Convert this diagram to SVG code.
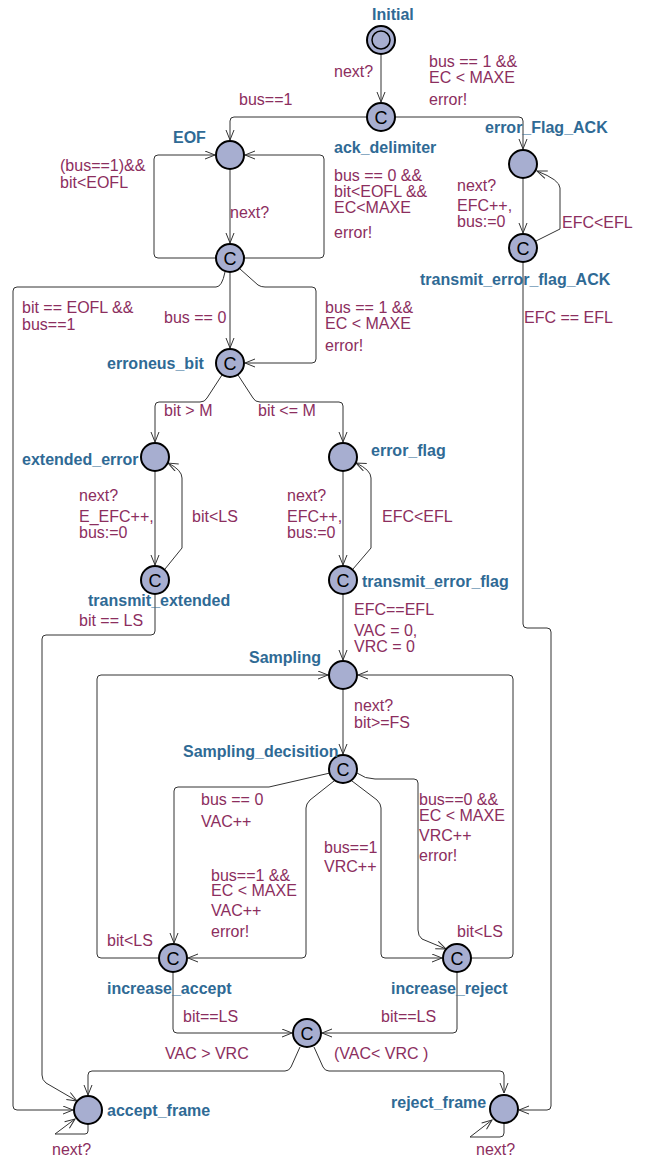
<svg xmlns="http://www.w3.org/2000/svg" width="645" height="1157" viewBox="0 0 645 1157">
<style>
.n{fill:#a7aed0;stroke:#000;stroke-width:2}
.nm{font-family:"Liberation Sans",Arial,sans-serif;font-weight:bold;font-size:16px;fill:#2f6a95}
.lb{font-family:"Liberation Sans",Arial,sans-serif;font-size:16px;fill:#8c2e5e}
.c{font-family:"Liberation Sans",Arial,sans-serif;font-size:18px;fill:#000;text-anchor:middle}
.e{fill:none;stroke:#333;stroke-width:1;marker-end:url(#a)}
</style>
<defs>
<marker id="a" markerUnits="userSpaceOnUse" markerWidth="12" markerHeight="10" refX="11" refY="4.5" orient="auto">
<path d="M1,0.5 L11,4.5 L1,8.5" fill="none" stroke="#333" stroke-width="1"/>
</marker>
</defs>
<rect width="645" height="1157" fill="#fff"/>
<g id="connectors">
<path class="e" d="M381,55 L381,102"/>
<path class="e" d="M367,117 L234,117 Q230,117 230,121 L230,140"/>
<path class="e" d="M395,117 L519,117 Q523,117 523,121 L523,149"/>
<path class="e" d="M230,170 L230,243"/>
<path class="e" d="M216,258 L158,258 Q154,258 154,254 L154,159 Q154,155 158,155 L215,155"/>
<path class="e" d="M244,258 L320,258 Q324,258 324,254 L324,159 Q324,155 320,155 L245,155"/>
<path class="e" d="M230,273 L230,348"/>
<path class="e" d="M240,269 L258,285 Q261,287 265,287 L312,287 Q316,287 316,291 L316,359 Q316,363 312,363 L245,363"/>
<path class="e" d="M225,272 Q222,287 216,287 L17,287 Q13,287 13,291 L13,1106 Q13,1110 17,1110 L73,1110"/>
<path class="e" d="M222,375 L207,398 Q205,402 200,402 L159,402 Q155,402 155,406 L155,442"/>
<path class="e" d="M238,375 L253,398 Q255,402 260,402 L339,402 Q343,402 343,406 L343,442"/>
<path class="e" d="M155,472 L155,565"/>
<path class="e" d="M165,569 L182,548 L182,478 Q182,470 168,463"/>
<path class="e" d="M343,472 L343,565"/>
<path class="e" d="M353,569 L371,548 L371,478 Q371,470 356,463"/>
<path class="e" d="M155,595 L155,631 Q155,635 151,635 L46,635 Q42,635 42,639 L42,1075 Q42,1080 46,1083 L77,1101"/>
<path class="e" d="M343,595 L343,660"/>
<path class="e" d="M523,263 L523,624 Q523,628 527,628 L547,628 Q551,628 551,632 L551,1106 Q551,1110 547,1110 L519,1110"/>
<path class="e" d="M536,241 L560,229 L560,188 Q560,180 537,171"/>
<path class="e" d="M523,179 L523,233"/>
<path class="e" d="M343,690 L343,754"/>
<path class="e" d="M330,773 L269,787 L178,787 Q174,787 174,791 L174,943"/>
<path class="e" d="M334,781 L310,800 Q306,804 306,808 L306,954 Q306,958 302,958 L188,958"/>
<path class="e" d="M352,781 L377,800 Q381,804 381,808 L381,954 Q381,958 385,958 L442,958"/>
<path class="e" d="M357,773 Q365,779 375,779 L414,779 Q418,779 418,783 L418,930 Q418,936 422,939 L446,949"/>
<path class="e" d="M159,958 L101,958 Q97,958 97,954 L97,679 Q97,675 101,675 L328,675"/>
<path class="e" d="M471,958 L509,958 Q513,958 513,954 L513,679 Q513,675 509,675 L358,675"/>
<path class="e" d="M173,973 L173,1029 Q173,1033 177,1033 L292,1033"/>
<path class="e" d="M457,973 L457,1029 Q457,1033 453,1033 L322,1033"/>
<path class="e" d="M300,1047 L291,1067 Q289,1071 285,1071 L92,1071 Q88,1071 88,1075 L88,1095"/>
<path class="e" d="M314,1047 L323,1067 Q325,1071 329,1071 L500,1071 Q504,1071 504,1075 L504,1093"/>
<path class="e" d="M88,1125 L88,1131 Q88,1134 85,1134 L55,1134 L75,1119"/>
<path class="e" d="M504,1123 L504,1133 Q504,1137 500,1137 L470,1137 L492,1120"/>
</g>
<g id="edge-labels" class="lb">
<text x="334" y="77">next?</text>
<text x="239" y="105">bus==1</text>
<text x="429" y="67">bus == 1 &amp;&amp;</text>
<text x="429" y="83">EC &lt; MAXE</text>
<text x="429" y="105">error!</text>
<text x="60" y="171">(bus==1)&amp;&amp;</text>
<text x="60" y="188">bit&lt;EOFL</text>
<text x="334" y="181">bus == 0 &amp;&amp;</text>
<text x="334" y="197">bit&lt;EOFL &amp;&amp;</text>
<text x="334" y="213">EC&lt;MAXE</text>
<text x="334" y="238">error!</text>
<text x="230" y="218">next?</text>
<text x="457" y="191">next?</text>
<text x="457" y="211">EFC++,</text>
<text x="457" y="227">bus:=0</text>
<text x="562" y="228">EFC&lt;EFL</text>
<text x="22" y="313">bit == EOFL &amp;&amp;</text>
<text x="22" y="330">bus==1</text>
<text x="164" y="323">bus == 0</text>
<text x="325" y="313">bus == 1 &amp;&amp;</text>
<text x="325" y="329">EC &lt; MAXE</text>
<text x="325" y="351">error!</text>
<text x="524" y="323">EFC == EFL</text>
<text x="164" y="416">bit &gt; M</text>
<text x="258" y="416">bit &lt;= M</text>
<text x="79" y="501">next?</text>
<text x="79" y="522">E_EFC++,</text>
<text x="79" y="538">bus:=0</text>
<text x="192" y="522">bit&lt;LS</text>
<text x="287" y="501">next?</text>
<text x="287" y="522">EFC++,</text>
<text x="287" y="538">bus:=0</text>
<text x="382" y="522">EFC&lt;EFL</text>
<text x="79" y="626">bit == LS</text>
<text x="354" y="615">EFC==EFL</text>
<text x="354" y="636">VAC = 0,</text>
<text x="354" y="652">VRC = 0</text>
<text x="354" y="711">next?</text>
<text x="354" y="728">bit&gt;=FS</text>
<text x="201" y="805">bus == 0</text>
<text x="201" y="827">VAC++</text>
<text x="419" y="805">bus==0 &amp;&amp;</text>
<text x="419" y="821">EC &lt; MAXE</text>
<text x="419" y="841">VRC++</text>
<text x="419" y="861">error!</text>
<text x="324" y="853">bus==1</text>
<text x="324" y="872">VRC++</text>
<text x="211" y="881">bus==1 &amp;&amp;</text>
<text x="211" y="896">EC &lt; MAXE</text>
<text x="211" y="916">VAC++</text>
<text x="211" y="937">error!</text>
<text x="107" y="946">bit&lt;LS</text>
<text x="457" y="937">bit&lt;LS</text>
<text x="183" y="1022">bit==LS</text>
<text x="381" y="1022">bit==LS</text>
<text x="165" y="1059">VAC &gt; VRC</text>
<text x="334" y="1059">(VAC&lt; VRC )</text>
<text x="52" y="1155">next?</text>
<text x="476" y="1155">next?</text>
</g>
<g id="Initial"><circle class="n" cx="381" cy="40" r="14"/><circle cx="381" cy="40" r="9" fill="none" stroke="#000" stroke-width="1.5"/><text class="nm" x="372" y="20">Initial</text></g>
<g id="ack_delimiter"><circle class="n" cx="381" cy="117" r="14"/><text class="c" x="381" y="124">C</text><text class="nm" x="334" y="153">ack_delimiter</text></g>
<g id="EOF"><circle class="n" cx="230" cy="155" r="14"/><text class="nm" x="173" y="143">EOF</text></g>
<g id="error_Flag_ACK"><circle class="n" cx="523" cy="164" r="14"/><text class="nm" x="485" y="133">error_Flag_ACK</text></g>
<g id="EOF_check"><circle class="n" cx="230" cy="258" r="14"/><text class="c" x="230" y="265">C</text></g>
<g id="transmit_error_flag_ACK"><circle class="n" cx="523" cy="248" r="14"/><text class="c" x="523" y="255">C</text><text class="nm" x="420" y="285">transmit_error_flag_ACK</text></g>
<g id="erroneus_bit"><circle class="n" cx="230" cy="363" r="14"/><text class="c" x="230" y="370">C</text><text class="nm" x="107" y="369">erroneus_bit</text></g>
<g id="extended_error"><circle class="n" cx="155" cy="457" r="14"/><text class="nm" x="22" y="465">extended_error</text></g>
<g id="error_flag"><circle class="n" cx="343" cy="457" r="14"/><text class="nm" x="371" y="456">error_flag</text></g>
<g id="transmit_extended"><circle class="n" cx="155" cy="580" r="14"/><text class="c" x="155" y="587">C</text><text class="nm" x="88" y="606">transmit_extended</text></g>
<g id="transmit_error_flag"><circle class="n" cx="343" cy="580" r="14"/><text class="c" x="343" y="587">C</text><text class="nm" x="362" y="587">transmit_error_flag</text></g>
<g id="Sampling"><circle class="n" cx="343" cy="675" r="14"/><text class="nm" x="249" y="663">Sampling</text></g>
<g id="Sampling_decisition"><circle class="n" cx="343" cy="769" r="14"/><text class="c" x="343" y="776">C</text><text class="nm" x="183" y="757">Sampling_decisition</text></g>
<g id="increase_accept"><circle class="n" cx="173" cy="958" r="14"/><text class="c" x="173" y="965">C</text><text class="nm" x="107" y="994">increase_accept</text></g>
<g id="increase_reject"><circle class="n" cx="457" cy="958" r="14"/><text class="c" x="457" y="965">C</text><text class="nm" x="391" y="994">increase_reject</text></g>
<g id="decision"><circle class="n" cx="307" cy="1033" r="14"/><text class="c" x="307" y="1040">C</text></g>
<g id="accept_frame"><circle class="n" cx="88" cy="1110" r="14"/><text class="nm" x="107" y="1116">accept_frame</text></g>
<g id="reject_frame"><circle class="n" cx="504" cy="1109" r="14"/><text class="nm" x="391" y="1108">reject_frame</text></g>
</svg>
